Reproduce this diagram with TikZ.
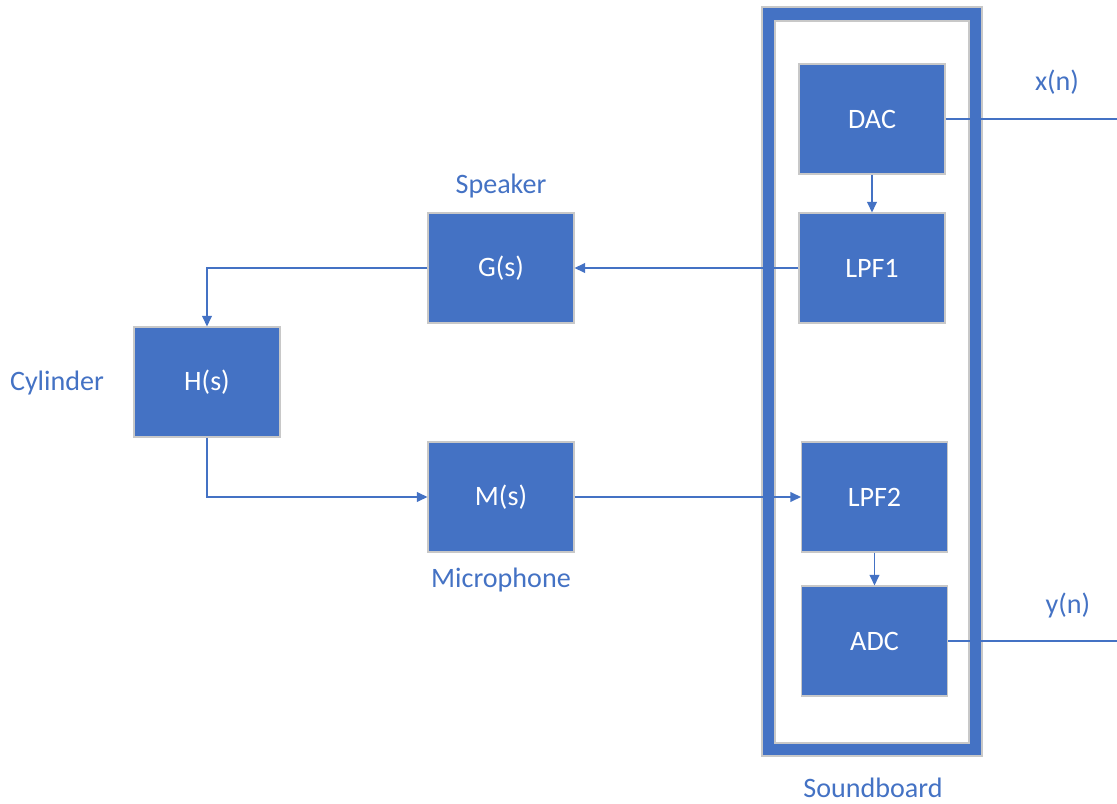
\documentclass[tikz,border=0pt]{standalone}
\usepackage{fontspec}
\setmainfont{Carlito}
\usetikzlibrary{arrows.meta}
\definecolor{officeblue}{HTML}{4472C4}
\definecolor{edgegray}{HTML}{C8C8C8}
\tikzset{
  blk/.style={draw=edgegray, line width=0.6pt, fill=officeblue, text=white,
    minimum width=2.92cm, minimum height=2.2cm, inner sep=0pt,
    font=\fontsize{16}{19}\selectfont},
  lbl/.style={text=officeblue, inner sep=0pt, font=\fontsize{16}{19}\selectfont},
  wire/.style={draw=officeblue, line width=0.85pt},
  arr/.style={wire, -{Triangle[length=6pt,width=5.5pt]}}
}

\begin{document}
\begin{tikzpicture}[x=0.02cm,y=-0.02cm]
  \useasboundingbox (0,0) rectangle (1117,804);
  % soundboard frame
  \draw[fill=officeblue, draw=edgegray, line width=0.6pt] (762,7) rectangle (982,756);
  \draw[fill=white, draw=edgegray, line width=0.6pt] (775,21) rectangle (969,743);
  \node[lbl] (sblabel) at (873,788) {Soundboard};

  % soundboard blocks
  \node[blk] (dac) at (872,119) {DAC};
  \node[blk] (lpf1) at (872,268) {LPF1};
  \node[blk] (lpf2) at (874.5,497) {LPF2};
  \node[blk] (adc) at (874.5,641) {ADC};

  % plant
  \node[blk] (gs) at (501,268) {G(s)};
  \node[blk] (hs) at (207,382) {H(s)};
  \node[blk] (ms) at (501,497) {M(s)};
  \node[lbl] (spk) at (501,186) {Speaker};
  \node[lbl] (cyl) at (57,383) {Cylinder};
  \node[lbl] (mic) at (501,580) {Microphone};

  % signals
  \node[lbl] (xn) at (1057,82) {x(n)};
  \node[lbl] (yn) at (1068,605) {y(n)};
  \coordinate (xend) at (1117,119);
  \coordinate (yend) at (1117,641);

  \draw[wire] (dac.east) -- (xend);
  \draw[wire] (adc.east) -- (yend);
  \draw[arr] (dac) -- (lpf1);
  \draw[arr] (lpf2) -- (adc);
  \draw[arr] (lpf1) -- (gs);
  \draw[arr] (gs.west) -| (hs.north);
  \draw[arr] (hs.south) |- (ms.west);
  \draw[arr] (ms) -- (lpf2);
\end{tikzpicture}
\end{document}
